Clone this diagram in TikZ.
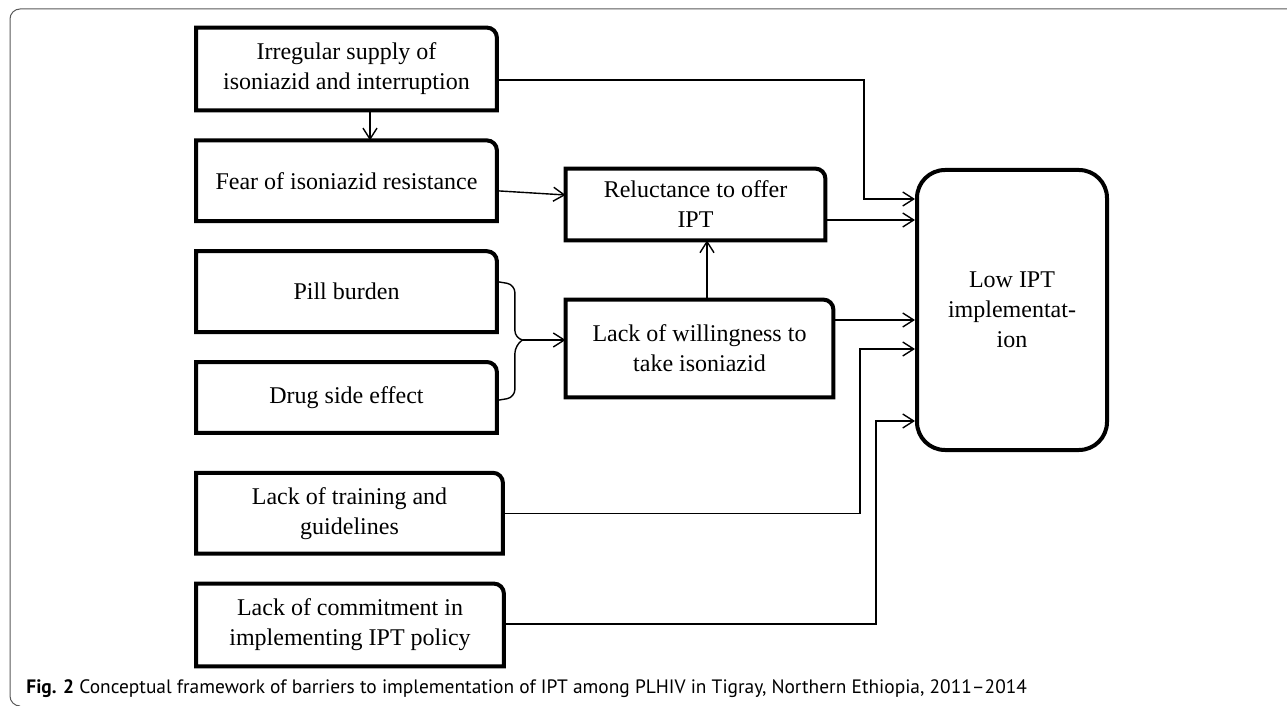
\documentclass[tikz,border=0pt]{standalone}
\usepackage{fontspec}
\setmainfont{Liberation Serif}
\newfontfamily\capfont{PT Sans}
\usetikzlibrary{arrows.meta,positioning,calc}

\begin{document}
\begin{tikzpicture}[
  x=0.5pt, y=-0.5pt,
  font=\fontsize{12}{15}\selectfont,
  >={Straight Barb[length=5.5pt,width=7pt]},
  barrier/.style={inner sep=0pt, align=center, minimum width=150pt, minimum height=40pt},
  outline/.style={line width=2pt, line join=miter},
  conn/.style={line width=0.7pt}
]
\useasboundingbox (0,0) rectangle (1287,706);
% frame
\draw[line width=0.5pt, gray!70!black, rounded corners=5pt] (1287,9) -- (10,9) -- (10,706) -- (18,706);

% left column
\node[barrier, minimum height=41pt] (sup) at (346.5,69) {Irregular supply of\\isoniazid and interruption};
\node[barrier, below=15pt of sup.south west, anchor=north west] (fear) {Fear of isoniazid resistance};
\node[barrier, below=15pt of fear.south west, anchor=north west] (pill) {Pill burden};
\node[barrier, below=15pt of pill.south west, anchor=north west, minimum height=35pt] (side) {Drug side effect};
\node[barrier, below=20pt of side.south west, anchor=north west, minimum width=153pt] (train) {Lack of training and\\guidelines};
\node[barrier, below=15pt of train.south west, anchor=north west, minimum width=153.5pt, minimum height=41pt] (commit) {Lack of commitment in\\implementing IPT policy};

% middle column
\node[barrier, minimum width=129.5pt, minimum height=35.5pt] (reluct) at (695.5,204.5) {Reluctance to offer\\IPT};
\node[barrier, minimum width=133.5pt, minimum height=48.5pt] (will) at (699.5,348.5) {Lack of willingness to\\take isoniazid};

% outcome
\node[align=center, inner sep=0pt, minimum width=95pt, minimum height=140pt, draw, outline, rounded corners=14pt] (low) at (1012,310) {Low IPT\\implementat-\\ion};

% boxes with one rounded corner
\foreach \n in {sup,fear,pill,side,train,commit,reluct,will}
  \draw[outline] (\n.south west) -- (\n.north west) -- ([xshift=-5pt]\n.north east)
    arc[start angle=90, end angle=0, radius=5pt] -- (\n.south east) -- cycle;

% arrows
\draw[conn,->] ($(sup.south)+(23.5,0)$) -- ($(fear.north)+(23.5,0)$);
\draw[conn,->] ($(fear.east)+(0,10)$) -- ($(reluct.west)+(0,-9.5)$);
\coordinate (wtop) at ($(will.north)+(7.5,0)$);
\draw[conn,->] (wtop) -- (wtop |- reluct.south);

% brace
\coordinate (tip) at ($(will.west)+(-43,-8.5)$);
\draw[conn, rounded corners=4pt] ($(pill.east)+(0,-10)$) -- ++(18,3) -- ++(0,54) -- (tip);
\draw[conn, rounded corners=4pt] ($(side.east)+(0,3)$) -- ++(18,-3) -- ++(0,-52) -- (tip);
\draw[conn,->] (tip) -- ($(will.west)+(0,-8.5)$);

% into outcome
\draw[conn,->] ($(sup.east)+(0,11)$) -- ++(367,0) |- ($(low.west)+(0,-111)$);
\draw[conn,->] ($(reluct.east)+(0,15.5)$) -- ($(low.west)+(0,-90)$);
\draw[conn,->] ($(will.east)+(0,-28.5)$) -- ($(low.west)+(0,10)$);
\draw[conn,->] (train.east) -- ++(357,0) |- ($(low.west)+(0,39)$);
\draw[conn,->] ($(commit.east)+(0,-1)$) -- ++(372,0) |- ($(low.west)+(0,111)$);

% caption
\node[anchor=base west, inner sep=0pt, font=\capfont\fontsize{9.7}{12}\selectfont] (cap) at (26,693)
  {\textbf{Fig. 2} Conceptual framework of barriers to implementation of IPT among PLHIV in Tigray, Northern Ethiopia, 2011–2014};
\end{tikzpicture}
\end{document}
